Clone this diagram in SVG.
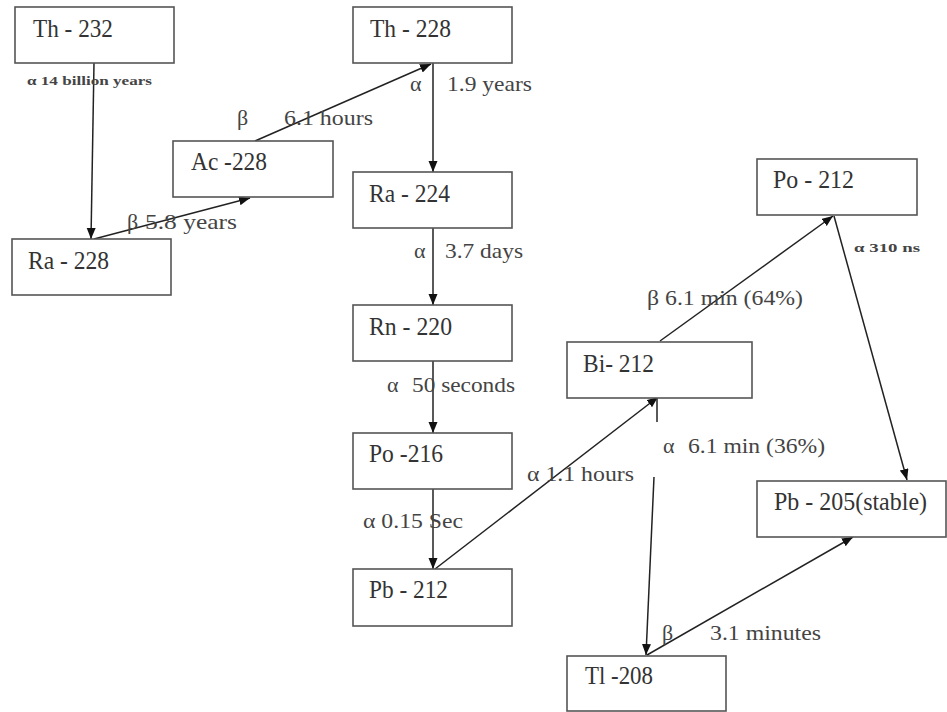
<svg xmlns="http://www.w3.org/2000/svg" width="947" height="712" viewBox="0 0 947 712">
<style>
.box{fill:#fff;stroke:#555;stroke-width:1.6}
.nt{font-family:'Liberation Serif','Times New Roman',Times,'DejaVu Serif','Noto Serif',serif;font-size:25px;fill:#333}
.lb{font-family:'Liberation Serif','Times New Roman',Times,'DejaVu Serif','Noto Serif',serif;font-size:22px;fill:#444}
.sm{font-family:'Liberation Serif','Times New Roman',Times,'DejaVu Serif','Noto Serif',serif;font-size:13px;font-weight:bold;fill:#444}
.cn{stroke:#222;stroke-width:1.5;fill:none}
</style>
<defs>
<marker id="ah" markerUnits="userSpaceOnUse" markerWidth="12" markerHeight="10" refX="11" refY="4.5" orient="auto">
<path d="M0,0 L11,4.5 L0,9 z" fill="#111"/>
</marker>
</defs>
<rect width="947" height="712" fill="#fff"/>
<g id="connectors">
<line class="cn" x1="94" y1="63" x2="91" y2="239" marker-end="url(#ah)"/>
<line class="cn" x1="94" y1="239" x2="250" y2="198" marker-end="url(#ah)"/>
<line class="cn" x1="255" y1="141" x2="431" y2="64" marker-end="url(#ah)"/>
<line class="cn" x1="433" y1="63" x2="433" y2="172" marker-end="url(#ah)"/>
<line class="cn" x1="433" y1="228" x2="433" y2="305" marker-end="url(#ah)"/>
<line class="cn" x1="433" y1="361" x2="433" y2="433" marker-end="url(#ah)"/>
<line class="cn" x1="433" y1="489" x2="433" y2="569" marker-end="url(#ah)"/>
<line class="cn" x1="435" y1="569" x2="658" y2="397" marker-end="url(#ah)"/>
<line class="cn" x1="660" y1="341" x2="833" y2="216" marker-end="url(#ah)"/>
<line class="cn" x1="834" y1="216" x2="907" y2="480" marker-end="url(#ah)"/>
<line class="cn" x1="657" y1="398" x2="657" y2="422"/>
<line class="cn" x1="654" y1="477" x2="646" y2="655" marker-end="url(#ah)"/>
<line class="cn" x1="647" y1="655" x2="853" y2="537" marker-end="url(#ah)"/>
</g>
<g id="labels">
<text class="sm" x="27" y="85" textLength="125" lengthAdjust="spacingAndGlyphs">α 14 billion years</text>
<text class="lb" x="237" y="125">β</text>
<text class="lb" x="284" y="125" textLength="89" lengthAdjust="spacingAndGlyphs">6.1 hours</text>
<text class="lb" x="410" y="91">α</text>
<text class="lb" x="447" y="91" textLength="85" lengthAdjust="spacingAndGlyphs">1.9 years</text>
<text class="lb" x="127" y="229">β</text>
<text class="lb" x="145" y="229" textLength="92" lengthAdjust="spacingAndGlyphs">5.8 years</text>
<text class="lb" x="414" y="258">α</text>
<text class="lb" x="445" y="258" textLength="78" lengthAdjust="spacingAndGlyphs">3.7 days</text>
<text class="lb" x="387" y="392">α</text>
<text class="lb" x="412" y="392" textLength="103" lengthAdjust="spacingAndGlyphs">50 seconds</text>
<text class="lb" x="363" y="528" textLength="100" lengthAdjust="spacingAndGlyphs">α 0.15 Sec</text>
<text class="lb" x="527" y="481" textLength="107" lengthAdjust="spacingAndGlyphs">α 1.1 hours</text>
<text class="lb" x="647" y="305" textLength="156" lengthAdjust="spacingAndGlyphs">β 6.1 min (64%)</text>
<text class="sm" x="854" y="252" textLength="66" lengthAdjust="spacingAndGlyphs">α 310 ns</text>
<text class="lb" x="663" y="453">α</text>
<text class="lb" x="688" y="453" textLength="137" lengthAdjust="spacingAndGlyphs">6.1 min (36%)</text>
<text class="lb" x="662" y="640">β</text>
<text class="lb" x="710" y="640" textLength="111" lengthAdjust="spacingAndGlyphs">3.1 minutes</text>
</g>
<g id="th232"><rect class="box" x="15" y="7" width="159" height="56"/><text class="nt" x="33" y="37" textLength="80" lengthAdjust="spacingAndGlyphs">Th - 232</text></g>
<g id="ra228"><rect class="box" x="12" y="239" width="159" height="56"/><text class="nt" x="28" y="269" textLength="81" lengthAdjust="spacingAndGlyphs">Ra - 228</text></g>
<g id="ac228"><rect class="box" x="173" y="141" width="160" height="56"/><text class="nt" x="191" y="170" textLength="76" lengthAdjust="spacingAndGlyphs">Ac -228</text></g>
<g id="th228"><rect class="box" x="353" y="7" width="159" height="56"/><text class="nt" x="370" y="37" textLength="81" lengthAdjust="spacingAndGlyphs">Th - 228</text></g>
<g id="ra224"><rect class="box" x="353" y="172" width="159" height="56"/><text class="nt" x="369" y="202" textLength="81" lengthAdjust="spacingAndGlyphs">Ra - 224</text></g>
<g id="rn220"><rect class="box" x="353" y="305" width="159" height="56"/><text class="nt" x="369" y="335" textLength="83" lengthAdjust="spacingAndGlyphs">Rn - 220</text></g>
<g id="po216"><rect class="box" x="353" y="433" width="159" height="56"/><text class="nt" x="369" y="462" textLength="74" lengthAdjust="spacingAndGlyphs">Po -216</text></g>
<g id="pb212"><rect class="box" x="353" y="569" width="159" height="57"/><text class="nt" x="369" y="598" textLength="79" lengthAdjust="spacingAndGlyphs">Pb - 212</text></g>
<g id="bi212"><rect class="box" x="567" y="342" width="185" height="56"/><text class="nt" x="583" y="372" textLength="71" lengthAdjust="spacingAndGlyphs">Bi- 212</text></g>
<g id="po212"><rect class="box" x="757" y="159" width="160" height="56"/><text class="nt" x="773" y="188" textLength="81" lengthAdjust="spacingAndGlyphs">Po - 212</text></g>
<g id="pb205"><rect class="box" x="757" y="481" width="189" height="56"/><text class="nt" x="774" y="510" textLength="153" lengthAdjust="spacingAndGlyphs">Pb - 205(stable)</text></g>
<g id="tl208"><rect class="box" x="567" y="656" width="159" height="55"/><text class="nt" x="585" y="684" textLength="68" lengthAdjust="spacingAndGlyphs">Tl -208</text></g>
</svg>
